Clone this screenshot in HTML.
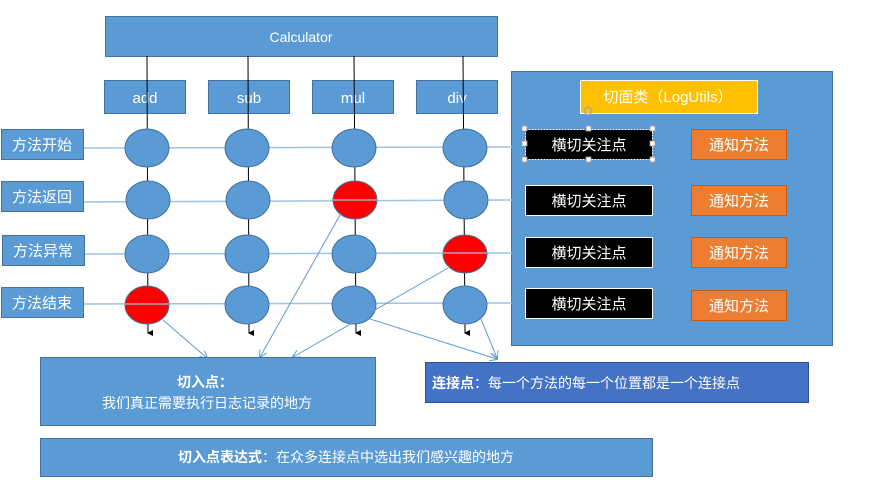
<!DOCTYPE html>
<html><head><meta charset="utf-8"><style>
body{margin:0;background:#fff;width:886px;height:489px;overflow:hidden}
svg text{font-family:"Liberation Sans","Noto Sans CJK SC",sans-serif}
</style></head><body>
<svg width="886" height="489" viewBox="0 0 886 489" xmlns="http://www.w3.org/2000/svg">
<defs>
<marker id="ab" markerWidth="6" markerHeight="6" refX="3" refY="5" orient="auto"><path d="M0,0 L6,0 L3,6 z" fill="#000" transform="rotate(0)"/></marker>
<marker id="al" markerWidth="8" markerHeight="8" refX="7" refY="4" orient="auto"><path d="M0,0 L8,4 L0,8" fill="none" stroke="#5b9bd5" stroke-width="1"/></marker>
</defs>
<!-- right panel -->
<rect x="511.5" y="71.5" width="321" height="274" fill="#5b9bd5" stroke="#41719c"/>
<!-- horizontal lines -->
<g stroke="#9dc3e6" stroke-width="1.5">
<line x1="83" y1="148" x2="512" y2="147"/>
<line x1="83" y1="202" x2="512" y2="200"/>
<line x1="84" y1="254" x2="512" y2="253"/>
<line x1="83" y1="304" x2="512" y2="303"/>
</g>
<!-- Calculator -->
<rect x="105.5" y="16.5" width="392" height="40" fill="#5b9bd5" stroke="#41719c"/>
<text x="301" y="42" fill="#fff" font-size="14" text-anchor="middle">Calculator</text>
<g fill="#5b9bd5" stroke="#41719c">
<rect x="104.5" y="80.5" width="81" height="33"/>
<rect x="208.5" y="80.5" width="81" height="33"/>
<rect x="312.5" y="80.5" width="81" height="33"/>
<rect x="416.5" y="80.5" width="81" height="33"/>
</g>
<g fill="#fff" font-size="15" text-anchor="middle">
<text x="145" y="103">add</text><text x="249" y="103">sub</text><text x="353" y="103">mul</text><text x="457" y="103">div</text>
</g>
<!-- vertical lines -->
<g stroke="#000" stroke-width="1" marker-end="url(#ab)">
<line x1="147" y1="56" x2="148" y2="333"/>
<line x1="248" y1="56" x2="249" y2="333"/>
<line x1="354" y1="56" x2="356" y2="333"/>
<line x1="463" y1="56" x2="465" y2="333"/>
</g>
<!-- row labels -->
<g fill="#5b9bd5" stroke="#41719c">
<rect x="1.5" y="129.5" width="82" height="30"/>
<rect x="1.5" y="181.5" width="82" height="30"/>
<rect x="2.5" y="235.5" width="82" height="30"/>
<rect x="1.5" y="287.5" width="82" height="30"/>
</g>
<g fill="#fff" font-size="15" text-anchor="middle">
<text x="42" y="150">方法开始</text><text x="42" y="202">方法返回</text><text x="43" y="256">方法异常</text><text x="42" y="308">方法结束</text>
</g>
<!-- circles -->
<g stroke="#41719c" stroke-width="1">
<ellipse cx="147" cy="148" rx="22" ry="19" fill="#5b9bd5"/>
<ellipse cx="247" cy="148" rx="22" ry="19" fill="#5b9bd5"/>
<ellipse cx="354" cy="148" rx="22" ry="19" fill="#5b9bd5"/>
<ellipse cx="465" cy="148" rx="22" ry="19" fill="#5b9bd5"/>
<ellipse cx="148" cy="200" rx="22" ry="19" fill="#5b9bd5"/>
<ellipse cx="248" cy="200" rx="22" ry="19" fill="#5b9bd5"/>
<ellipse cx="355" cy="200" rx="22" ry="19" fill="#ff0000"/>
<ellipse cx="466" cy="200" rx="22" ry="19" fill="#5b9bd5"/>
<ellipse cx="147" cy="254" rx="22" ry="19" fill="#5b9bd5"/>
<ellipse cx="247" cy="254" rx="22" ry="19" fill="#5b9bd5"/>
<ellipse cx="354" cy="254" rx="22" ry="19" fill="#5b9bd5"/>
<ellipse cx="465" cy="254" rx="22" ry="19" fill="#ff0000"/>
<ellipse cx="147" cy="305" rx="22" ry="19" fill="#ff0000"/>
<ellipse cx="247" cy="305" rx="22" ry="19" fill="#5b9bd5"/>
<ellipse cx="354" cy="305" rx="22" ry="19" fill="#5b9bd5"/>
<ellipse cx="465" cy="305" rx="22" ry="19" fill="#5b9bd5"/>
</g>
<g stroke="#9dc3e6" stroke-width="1.2">
<line x1="125" y1="304" x2="169" y2="304"/>
<line x1="333" y1="200" x2="377" y2="200"/>
<line x1="443" y1="253" x2="487" y2="253"/>
</g>
<!-- light blue arrows -->
<g stroke="#5b9bd5" stroke-width="1" fill="none" marker-end="url(#al)">
<line x1="163" y1="320" x2="207" y2="358"/>
<line x1="340" y1="215" x2="260" y2="357"/>
<line x1="448" y1="268" x2="293" y2="357"/>
<line x1="370" y1="319" x2="497" y2="359"/>
<line x1="481" y1="319" x2="497" y2="358"/>
</g>
<!-- right panel contents -->
<rect x="580.5" y="80.5" width="177" height="33" fill="#ffc000" stroke="#fff"/>
<text x="668" y="102" fill="#fff" font-size="15" text-anchor="middle">切面类（LogUtils）</text>
<g fill="#000" stroke="#fff">
<rect x="525.5" y="129.5" width="127" height="30" stroke-dasharray="2,1"/>
<rect x="525.5" y="185.5" width="127" height="30"/>
<rect x="525.5" y="237.5" width="127" height="30"/>
<rect x="525.5" y="288.5" width="127" height="30"/>
</g>
<g fill="#fff" stroke="#999" stroke-width="0.8">
<rect x="522" y="126" width="5" height="5"/><rect x="586" y="126" width="5" height="5"/><rect x="650" y="126" width="5" height="5"/>
<rect x="522" y="141" width="5" height="5"/><rect x="650" y="141" width="5" height="5"/>
<rect x="522" y="157" width="5" height="5"/><rect x="586" y="157" width="5" height="5"/><rect x="650" y="157" width="5" height="5"/>
<circle cx="588" cy="111" r="3.5" fill="none" stroke="#aaa" stroke-width="1.5"/>
</g>
<g fill="#fff" font-size="15" text-anchor="middle">
<text x="589" y="150">横切关注点</text><text x="589" y="206">横切关注点</text><text x="589" y="258">横切关注点</text><text x="589" y="309">横切关注点</text>
</g>
<g fill="#ed7d31" stroke="#c55a11">
<rect x="691.5" y="129.5" width="95" height="30"/>
<rect x="691.5" y="185.5" width="95" height="30"/>
<rect x="691.5" y="237.5" width="95" height="30"/>
<rect x="691.5" y="290.5" width="95" height="30"/>
</g>
<g fill="#fff" font-size="15" text-anchor="middle">
<text x="739" y="150">通知方法</text><text x="739" y="206">通知方法</text><text x="739" y="258">通知方法</text><text x="739" y="311">通知方法</text>
</g>
<!-- bottom -->
<rect x="40.5" y="357.5" width="335" height="68" fill="#5b9bd5" stroke="#41719c"/>
<text x="205" y="387" fill="#fff" font-size="14" font-weight="bold" text-anchor="middle">切入点：</text>
<text x="207" y="408" fill="#fff" font-size="14" text-anchor="middle">我们真正需要执行日志记录的地方</text>
<rect x="425.5" y="362.5" width="383" height="40" fill="#4472c4" stroke="#2f528f"/>
<text x="432" y="388" fill="#fff" font-size="14"><tspan font-weight="bold">连接点</tspan>：每一个方法的每一个位置都是一个连接点</text>
<rect x="40.5" y="438.5" width="612" height="38" fill="#5b9bd5" stroke="#41719c"/>
<text x="346" y="462" fill="#fff" font-size="14" text-anchor="middle"><tspan font-weight="bold">切入点表达式</tspan>：在众多连接点中选出我们感兴趣的地方</text>
</svg>
</body></html>
